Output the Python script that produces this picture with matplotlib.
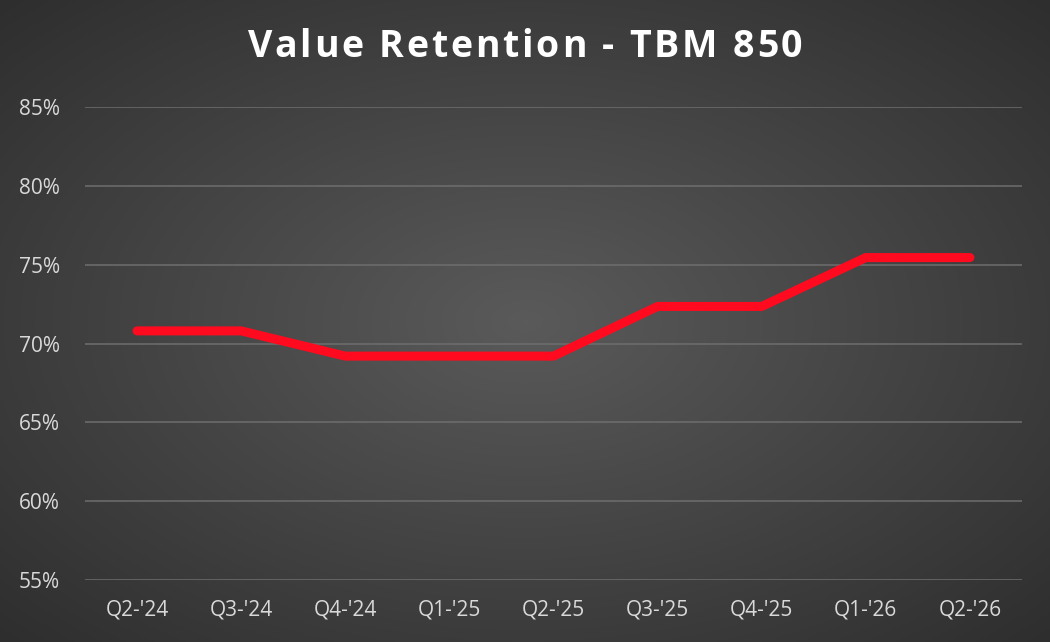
import numpy as np
import matplotlib
matplotlib.use("Agg")
import matplotlib.pyplot as plt
from matplotlib.colors import LinearSegmentedColormap

categories = ["Q2-'24", "Q3-'24", "Q4-'24", "Q1-'25", "Q2-'25", "Q3-'25", "Q4-'25", "Q1-'26", "Q2-'26"]
retention = [70.8, 70.8, 69.2, 69.2, 69.2, 72.35, 72.35, 75.45, 75.45]
yticks = [55, 60, 65, 70, 75, 80, 85]
ytick_labels = ["55%", "60%", "65%", "70%", "75%", "80%", "85%"]
title = "Value Retention - TBM 850"

plt.rcParams['font.family'] = ['Open Sans', 'DejaVu Sans']

W, H = 1050, 642
fig = plt.figure(figsize=(W / 100, H / 100), dpi=100)

# radial gradient background
bg = fig.add_axes([0, 0, 1, 1], zorder=-10)
yy, xx = np.mgrid[0:H, 0:W]
r = np.sqrt(((xx - W / 2) / (W / 2)) ** 2 + ((yy - H / 2) / (H / 2)) ** 2) / np.sqrt(2)
cmap = LinearSegmentedColormap.from_list("bg", ["#5a5a5a", "#2e2e2e"])
bg.imshow(r, cmap=cmap, vmin=0, vmax=1, aspect='auto', extent=[0, 1, 0, 1])
bg.set_axis_off()

ax = fig.add_axes([85 / W, 1 - 580 / H, (1022 - 85) / W, (580 - 107) / H])
ax.patch.set_alpha(0)
x = np.arange(len(categories))
ax.plot(x, retention, color="#FF0A1E", lw=6.5, solid_capstyle='round', solid_joinstyle='round', zorder=3)

ax.set_xlim(-0.5, len(categories) - 0.5)
ax.set_ylim(55, 85)
ax.set_yticks(yticks)
ax.set_yticklabels(ytick_labels)
ax.set_xticks(x)
ax.set_xticklabels(categories)
ax.grid(axis='y', color="#6e6e6e", lw=1.1)
ax.set_axisbelow(True)
for s in ax.spines.values():
    s.set_visible(False)
ax.tick_params(axis='both', length=0, colors="#d9d9d9", labelsize=15)
ax.tick_params(axis='y', pad=18)
ax.tick_params(axis='x', pad=14)

# letter-spaced title
fig.canvas.draw()
renderer = fig.canvas.get_renderer()
tkw = dict(color="white", fontsize=27, fontweight='bold', va='center', ha='left')


def width_px(s):
    t = fig.text(0, 0, s, **tkw)
    w = t.get_window_extent(renderer).width
    t.remove()
    return w


spacing = 2.8
wI = width_px("I")
offsets = [width_px(title[:i] + "I") - wI + i * spacing if i > 0 else 0.0 for i in range(len(title))]
total = width_px(title) + (len(title) - 1) * spacing
x0 = W / 2 - total / 2
yc = 1 - 47 / H
for i, ch in enumerate(title):
    if ch != " ":
        fig.text((x0 + offsets[i]) / W, yc, ch, **tkw)

fig.savefig("out.png", dpi=100)
